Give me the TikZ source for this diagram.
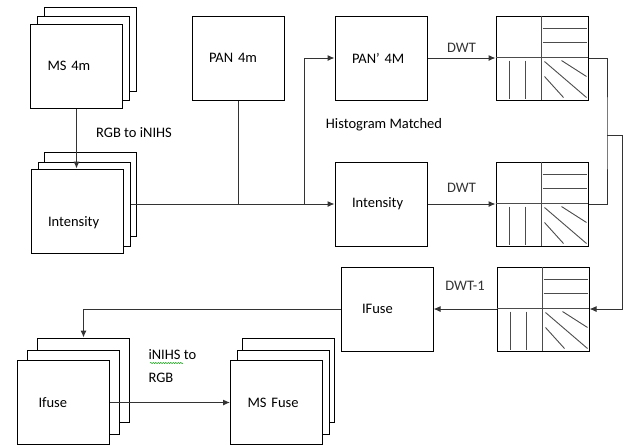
\documentclass[tikz,border=0pt]{standalone}
\usepackage{fontspec}
\setmainfont{Carlito}
\usepackage{tikz}
\usetikzlibrary{arrows.meta, calc, decorations.pathmorphing}

% wavelet sub-band lines inside a decomposition box
\newcommand\subbands[1]{%
  \begin{scope}[shift={(#1.north west)}, line width=0.9pt, black!70]
    \draw (46,0) -- (46,84);
    \draw (0,42) -- (92,42);
    \draw (47,13) -- (91,13);
    \draw (47,27) -- (91,27);
    \draw (14,45) -- (14,83);
    \draw (30,45) -- (30,83);
    \draw (49,46) -- (91,82);
    \draw (66,45) -- (91,61);
    \draw (49,61) -- (68,82);
  \end{scope}}

\begin{document}
\begin{tikzpicture}[x=1pt, y=-1pt, >={Latex[length=7pt,width=6pt]},
    font=\fontsize{14.5}{17}\selectfont,
    box/.style={rectangle, draw, fill=white, line width=1pt, minimum height=84pt,
                text width=58pt, inner xsep=17pt, align=left},
    wide/.style={inner xsep=21pt, text width=50pt},
    link/.style={line width=1pt, black!80}]
 			\useasboundingbox (0,0) rectangle (627,445);
 			% MS stack
 			\node (ms3) [box] at (90.5,49) {};
 			\node (ms2) [box] at (83.5,58) {};
 			\node (ms1) [box] at (76.5,66) {MS 4m};
 			% intensity stack
 			\node (int3) [box] at (90.5,194.5) {};
 			\node (int2) [box] at (84,204) {};
 			\node (int1) [box] at (77,211) {\raisebox{-15pt}[0pt][0pt]{Intensity}};
 			\node (pan) [box] at (238,58) {PAN 4m};
 			\node (panp) [box] at (381,58) {PAN’ 4M};
 			\node (inten) [box] at (381,204) {Intensity};
 			% wavelet boxes
 			\node (dwta) [box] at (542,58) {};
 			\node (dwtb) [box] at (542,204) {};
 			\node (dwtc) [box] at (543,309) {};
 			\subbands{dwta}
 			\subbands{dwtb}
 			\subbands{dwtc}
 			\node (ifuse) [box, wide] at (387,309) {IFuse};
 			% fused stacks
 			\node (ifs3) [box] at (83.5,380) {};
 			\node (ifs2) [box] at (73,392) {};
 			\node (ifs1) [box, wide] at (63.5,402.5) {Ifuse};
 			\node (msf3) [box] at (288.5,380) {};
 			\node (msf2) [box] at (283,392) {};
 			\node (msf1) [box] at (276.5,402.5) {MS Fuse};
 			
 			\node (rgbto) at (134,133) {RGB to iNIHS};
 			\node (histm) at (384,125) {Histogram Matched};
 			\node (inihs) [align=left, anchor=west] at (145,366.5) {iNIHS to\\[6pt]RGB};
 			\draw[green!60!black, line width=0.5pt, decorate,
 			      decoration={snake, amplitude=0.6pt, segment length=2.5pt}] (150,363) -- (183,363);
 			
 			\coordinate (split) at (304,204);
 			\coordinate (join) at (607,135);
 			\coordinate (turn) at (622,135);
 			
 			\draw[link, ->] (ms1.south) -- (ms1.south |- int1.north);
 			\draw[link, ->] (int2.east) -- (inten.west);
 			\draw[link] (pan.south) -- (pan.south |- int2.east);
 			\draw[link, ->] (split) |- (panp.west);
 			\draw[link, ->] (panp.east) -- node[above=2pt] {DWT} (dwta.west);
 			\draw[link, ->] (inten.east) -- node[above=8pt] {DWT} (dwtb.west);
 			\draw[link] (dwta.east) -| (join) |- (dwtb.east);
 			\draw[link, ->] (join) -- (turn) |- (dwtc.east);
 			\draw[link, ->] (dwtc.west) -- node[above=15pt] {DWT-1} (ifuse.east);
 			\draw[link, ->] (ifuse.west) -| (ifs3.north);
 			\draw[link, ->] (ifs1.east) -- (msf1.west);
 		\end{tikzpicture}
\end{document}
